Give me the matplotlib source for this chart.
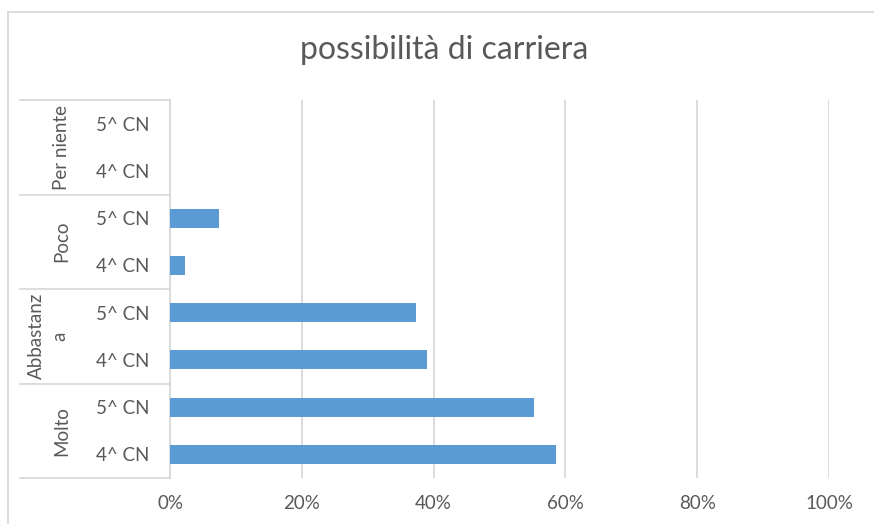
import matplotlib
matplotlib.use("Agg")
import matplotlib.pyplot as plt
from matplotlib.transforms import blended_transform_factory
from matplotlib.lines import Line2D

plt.rcParams['font.family'] = ['Lato', 'DejaVu Sans']

title = "possibilità di carriera"
groups = ["Molto", "Abbastanz\na", "Poco", "Per niente"]
classes = ["4^ CN", "5^ CN"]
# values per group (bottom to top), [4^ CN, 5^ CN]
molto = [0.586, 0.552]
abbastanza = [0.390, 0.373]
poco = [0.023, 0.074]
per_niente = [0.0, 0.0]
xticks = [0, 0.2, 0.4, 0.6, 0.8, 1.0]
xticklabels = ["0%", "20%", "40%", "60%", "80%", "100%"]

values = molto + abbastanza + poco + per_niente
labels = classes * len(groups)

W, H = 874, 524
fig = plt.figure(figsize=(W / 100, H / 100), dpi=100)
ax = fig.add_axes([170 / W, (H - 478) / H, (829 - 170) / W, (478 - 100) / H])

text_col = "#595959"
grid_col = "#d9d9d9"
bar_col = "#5b9bd5"
fs = 13.5

ypos = list(range(len(values)))
ax.barh(ypos, values, height=0.4, color=bar_col, zorder=3)
ax.set_xlim(0, 1)
ax.set_ylim(-0.5, len(values) - 0.5)
ax.set_xticks(xticks)
ax.set_xticklabels(xticklabels)
ax.set_yticks(ypos)
ax.set_yticklabels(labels)
ax.tick_params(axis='y', length=0, pad=14.5, labelsize=fs, labelcolor=text_col)
ax.tick_params(axis='x', length=0, pad=12, labelsize=fs, labelcolor=text_col)
ax.grid(axis='x', color=grid_col, linewidth=1.3, zorder=0)
for s in ['top', 'right', 'bottom']:
    ax.spines[s].set_visible(False)
ax.spines['left'].set_color(grid_col)
ax.spines['left'].set_linewidth(1.3)

tr = blended_transform_factory(fig.transFigure, ax.transData)
for b in [-0.5, 1.5, 3.5, 5.5, 7.5]:
    ax.add_line(Line2D([20 / W, 170 / W], [b, b], transform=tr, color=grid_col,
                       linewidth=1.3, clip_on=False))
for i, g in enumerate(groups):
    gx = 48 if "\n" in g else 62
    ax.text(gx / W, 2 * i + 0.5, g, transform=tr, rotation=90, ha='center', va='center',
            fontsize=fs, color=text_col, linespacing=1.45)

fig.text(444 / W, 1 - 50 / H, title, ha='center', va='center', fontsize=23, color=text_col)

# chart border (left and top)
fig.add_artist(Line2D([7.5 / W, 7.5 / W], [0, 1 - 12 / H], transform=fig.transFigure,
                      color=grid_col, linewidth=1.3))
fig.add_artist(Line2D([7.5 / W, 1], [1 - 12 / H, 1 - 12 / H], transform=fig.transFigure,
                      color=grid_col, linewidth=1.3))

fig.savefig("out.png", dpi=100)
